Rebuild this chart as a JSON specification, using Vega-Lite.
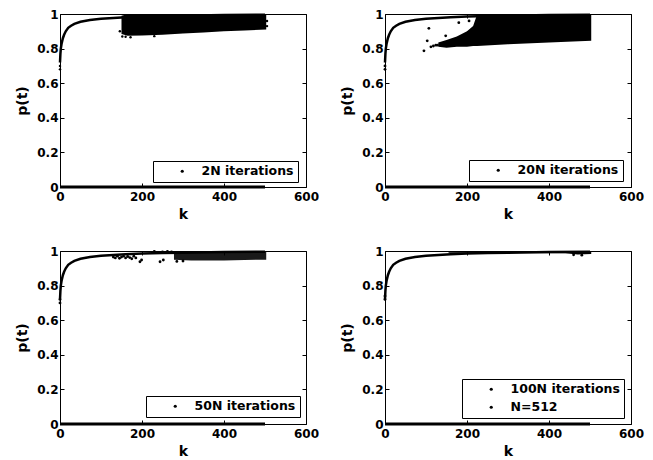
{
  "$schema": "https://vega.github.io/schema/vega-lite/v6.json",
  "padding": {"left": 15, "top": 7, "right": 5, "bottom": 3},
  "background": "white",
  "datasets": {
    "curve": [
      {"k": 0, "p": 0.72}, {"k": 1, "p": 0.77}, {"k": 2, "p": 0.8}, {"k": 4, "p": 0.83},
      {"k": 7, "p": 0.86}, {"k": 10, "p": 0.88}, {"k": 14, "p": 0.9}, {"k": 20, "p": 0.92},
      {"k": 27, "p": 0.932}, {"k": 35, "p": 0.943}, {"k": 50, "p": 0.955}, {"k": 73, "p": 0.965},
      {"k": 100, "p": 0.972}, {"k": 130, "p": 0.977}, {"k": 160, "p": 0.981}, {"k": 200, "p": 0.985},
      {"k": 250, "p": 0.988}, {"k": 300, "p": 0.99}, {"k": 400, "p": 0.994}, {"k": 500, "p": 0.996}
    ],
    "bottom": [{"k": 0, "p": 0}, {"k": 500, "p": 0}],
    "cloud1": [
      {"k": 150, "lo": 0.885, "hi": 0.99}, {"k": 165, "lo": 0.875, "hi": 1.0}, {"k": 200, "lo": 0.876, "hi": 1.0},
      {"k": 250, "lo": 0.88, "hi": 1.0}, {"k": 300, "lo": 0.887, "hi": 1.0}, {"k": 350, "lo": 0.893, "hi": 1.0},
      {"k": 400, "lo": 0.9, "hi": 1.0}, {"k": 450, "lo": 0.905, "hi": 1.0}, {"k": 503, "lo": 0.91, "hi": 1.0}
    ],
    "pts1": [
      {"k": 0, "p": 0.7}, {"k": 0, "p": 0.68}, {"k": 146, "p": 0.9}, {"k": 152, "p": 0.87},
      {"k": 160, "p": 0.868}, {"k": 172, "p": 0.866}, {"k": 230, "p": 0.872}, {"k": 505, "p": 0.93}, {"k": 505, "p": 0.96}
    ],
    "cloud2": [
      {"k": 130, "lo": 0.81, "hi": 0.835}, {"k": 150, "lo": 0.805, "hi": 0.85}, {"k": 175, "lo": 0.81, "hi": 0.87},
      {"k": 200, "lo": 0.81, "hi": 0.9}, {"k": 215, "lo": 0.815, "hi": 0.93}, {"k": 225, "lo": 0.815, "hi": 1.0},
      {"k": 300, "lo": 0.825, "hi": 1.0}, {"k": 400, "lo": 0.835, "hi": 1.0}, {"k": 503, "lo": 0.845, "hi": 1.0}
    ],
    "pts2": [
      {"k": 0, "p": 0.7}, {"k": 0, "p": 0.68}, {"k": 95, "p": 0.787}, {"k": 103, "p": 0.845}, {"k": 107, "p": 0.917},
      {"k": 112, "p": 0.81}, {"k": 118, "p": 0.815}, {"k": 124, "p": 0.82}, {"k": 128, "p": 0.82}, {"k": 148, "p": 0.874},
      {"k": 180, "p": 0.95}, {"k": 205, "p": 0.96}
    ],
    "cloud3": [
      {"k": 278, "lo": 0.95, "hi": 0.99}, {"k": 320, "lo": 0.945, "hi": 0.995}, {"k": 400, "lo": 0.945, "hi": 0.995},
      {"k": 450, "lo": 0.948, "hi": 0.995}, {"k": 503, "lo": 0.95, "hi": 0.995}
    ],
    "pts3": [
      {"k": 0, "p": 0.7}, {"k": 0, "p": 0.72},
      {"k": 130, "p": 0.965}, {"k": 135, "p": 0.96}, {"k": 140, "p": 0.97}, {"k": 145, "p": 0.958},
      {"k": 150, "p": 0.965}, {"k": 155, "p": 0.97}, {"k": 160, "p": 0.96}, {"k": 165, "p": 0.968},
      {"k": 170, "p": 0.962}, {"k": 175, "p": 0.955}, {"k": 180, "p": 0.97}, {"k": 185, "p": 0.96},
      {"k": 195, "p": 0.938}, {"k": 199, "p": 0.948}, {"k": 244, "p": 0.938}, {"k": 252, "p": 0.948},
      {"k": 250, "p": 0.995}, {"k": 262, "p": 0.997}, {"k": 272, "p": 0.994}, {"k": 230, "p": 0.998},
      {"k": 285, "p": 0.94}, {"k": 300, "p": 0.942}
    ],
    "cloud4": [
      {"k": 155, "lo": 0.99, "hi": 1.0}, {"k": 300, "lo": 0.988, "hi": 1.0}, {"k": 440, "lo": 0.987, "hi": 1.0},
      {"k": 470, "lo": 0.98, "hi": 1.0}, {"k": 503, "lo": 0.982, "hi": 1.0}
    ],
    "pts4": [
      {"k": 0, "p": 0.72}, {"k": 0, "p": 0.74}, {"k": 460, "p": 0.978}, {"k": 480, "p": 0.976}
    ]
  },
  "config": {
    "view": {"stroke": "black", "strokeWidth": 1},
    "axis": {
      "grid": false, "domain": false,
      "labelFont": "DejaVu Sans", "labelFontWeight": "bold", "labelFontSize": 12, "labelColor": "black",
      "titleFont": "DejaVu Sans", "titleFontWeight": "bold", "titleFontSize": 14, "titleColor": "black",
      "tickColor": "black", "tickSize": -4, "tickWidth": 1
    },
    "legend": {
      "labelFont": "DejaVu Sans", "labelFontWeight": "bold", "labelFontSize": 12.5, "labelColor": "black",
      "strokeColor": "black", "fillColor": "white", "padding": 4,
      "symbolType": "circle", "symbolSize": 10, "symbolFillColor": "black", "symbolStrokeColor": "black", "symbolStrokeWidth": 0,
      "symbolOffset": 19, "labelOffset": 13, "rowPadding": 5
    }
  },
  "resolve": {"scale": {"color": "independent"}, "legend": {"color": "independent"}},
  "spacing": 22,
  "vconcat": [
    {
      "resolve": {"scale": {"color": "independent"}, "legend": {"color": "independent"}},
      "spacing": 20,
      "hconcat": [
        {
          "width": 246, "height": 173,
          "resolve": {"axis": {"x": "independent", "y": "independent"}},
          "layer": [
            {"data": {"name": "bottom"}, "mark": {"type": "line", "color": "black", "strokeWidth": 3},
             "encoding": {
               "x": {"field": "k", "type": "quantitative", "scale": {"domain": [0, 600]}, "title": "k", "axis": {"orient": "bottom", "values": [0, 200, 400, 600], "labelPadding": 8, "titlePadding": 5, "labelFlush": false}},
               "y": {"field": "p", "type": "quantitative", "scale": {"domain": [0, 1]}, "title": "p(t)", "axis": {"orient": "left", "values": [0, 0.2, 0.4, 0.6, 0.8, 1], "format": "~g", "labelPadding": 6, "titlePadding": 7, "labelFlush": false}}
             }},
            {"data": {"name": "cloud1"}, "mark": {"type": "area", "color": "black"},
             "encoding": {"x": {"field": "k", "type": "quantitative", "axis": null}, "y": {"field": "lo", "type": "quantitative", "axis": null}, "y2": {"field": "hi"}}},
            {"data": {"name": "curve"}, "mark": {"type": "line", "color": "black", "strokeWidth": 2.5},
             "encoding": {
               "x": {"field": "k", "type": "quantitative", "axis": {"orient": "top", "values": [0, 200, 400, 600], "labels": false, "title": null}},
               "y": {"field": "p", "type": "quantitative", "axis": {"orient": "right", "values": [0, 0.2, 0.4, 0.6, 0.8, 1], "labels": false, "title": null}}
             }},
            {"data": {"name": "pts1"}, "mark": {"type": "point", "filled": true, "size": 6, "opacity": 1},
             "encoding": {
               "x": {"field": "k", "type": "quantitative", "axis": null},
               "y": {"field": "p", "type": "quantitative", "axis": null},
               "color": {"datum": "2N iterations", "type": "nominal", "scale": {"range": ["black"]}, "legend": {"title": null, "orient": "none", "legendX": 93, "legendY": 147}}
             }}
          ]
        },
        {
          "width": 246, "height": 173,
          "resolve": {"axis": {"x": "independent", "y": "independent"}},
          "layer": [
            {"data": {"name": "bottom"}, "mark": {"type": "line", "color": "black", "strokeWidth": 3},
             "encoding": {
               "x": {"field": "k", "type": "quantitative", "scale": {"domain": [0, 600]}, "title": "k", "axis": {"orient": "bottom", "values": [0, 200, 400, 600], "labelPadding": 8, "titlePadding": 5, "labelFlush": false}},
               "y": {"field": "p", "type": "quantitative", "scale": {"domain": [0, 1]}, "title": "p(t)", "axis": {"orient": "left", "values": [0, 0.2, 0.4, 0.6, 0.8, 1], "format": "~g", "labelPadding": 6, "titlePadding": 7, "labelFlush": false}}
             }},
            {"data": {"name": "cloud2"}, "mark": {"type": "area", "color": "black"},
             "encoding": {"x": {"field": "k", "type": "quantitative", "axis": null}, "y": {"field": "lo", "type": "quantitative", "axis": null}, "y2": {"field": "hi"}}},
            {"data": {"name": "curve"}, "mark": {"type": "line", "color": "black", "strokeWidth": 2.5},
             "encoding": {
               "x": {"field": "k", "type": "quantitative", "axis": {"orient": "top", "values": [0, 200, 400, 600], "labels": false, "title": null}},
               "y": {"field": "p", "type": "quantitative", "axis": {"orient": "right", "values": [0, 0.2, 0.4, 0.6, 0.8, 1], "labels": false, "title": null}}
             }},
            {"data": {"name": "pts2"}, "mark": {"type": "point", "filled": true, "size": 8, "opacity": 1},
             "encoding": {
               "x": {"field": "k", "type": "quantitative", "axis": null},
               "y": {"field": "p", "type": "quantitative", "axis": null},
               "color": {"datum": "20N iterations", "type": "nominal", "scale": {"range": ["black"]}, "legend": {"title": null, "orient": "none", "legendX": 84, "legendY": 146}}
             }}
          ]
        }
      ]
    },
    {
      "resolve": {"scale": {"color": "independent"}, "legend": {"color": "independent"}},
      "spacing": 20,
      "hconcat": [
        {
          "width": 246, "height": 173,
          "resolve": {"axis": {"x": "independent", "y": "independent"}},
          "layer": [
            {"data": {"name": "bottom"}, "mark": {"type": "line", "color": "black", "strokeWidth": 3},
             "encoding": {
               "x": {"field": "k", "type": "quantitative", "scale": {"domain": [0, 600]}, "title": "k", "axis": {"orient": "bottom", "values": [0, 200, 400, 600], "labelPadding": 8, "titlePadding": 5, "labelFlush": false}},
               "y": {"field": "p", "type": "quantitative", "scale": {"domain": [0, 1]}, "title": "p(t)", "axis": {"orient": "left", "values": [0, 0.2, 0.4, 0.6, 0.8, 1], "format": "~g", "labelPadding": 6, "titlePadding": 7, "labelFlush": false}}
             }},
            {"data": {"name": "cloud3"}, "mark": {"type": "area", "color": "black", "opacity": 0.9},
             "encoding": {"x": {"field": "k", "type": "quantitative", "axis": null}, "y": {"field": "lo", "type": "quantitative", "axis": null}, "y2": {"field": "hi"}}},
            {"data": {"name": "curve"}, "mark": {"type": "line", "color": "black", "strokeWidth": 2.5},
             "encoding": {
               "x": {"field": "k", "type": "quantitative", "axis": {"orient": "top", "values": [0, 200, 400, 600], "labels": false, "title": null}},
               "y": {"field": "p", "type": "quantitative", "axis": {"orient": "right", "values": [0, 0.2, 0.4, 0.6, 0.8, 1], "labels": false, "title": null}}
             }},
            {"data": {"name": "pts3"}, "mark": {"type": "point", "filled": true, "size": 8, "opacity": 1},
             "encoding": {
               "x": {"field": "k", "type": "quantitative", "axis": null},
               "y": {"field": "p", "type": "quantitative", "axis": null},
               "color": {"datum": "50N iterations", "type": "nominal", "scale": {"range": ["black"]}, "legend": {"title": null, "orient": "none", "legendX": 86, "legendY": 145}}
             }}
          ]
        },
        {
          "width": 246, "height": 173,
          "resolve": {"axis": {"x": "independent", "y": "independent"}},
          "layer": [
            {"data": {"name": "bottom"}, "mark": {"type": "line", "color": "black", "strokeWidth": 3},
             "encoding": {
               "x": {"field": "k", "type": "quantitative", "scale": {"domain": [0, 600]}, "title": "k", "axis": {"orient": "bottom", "values": [0, 200, 400, 600], "labelPadding": 8, "titlePadding": 5, "labelFlush": false}},
               "y": {"field": "p", "type": "quantitative", "scale": {"domain": [0, 1]}, "title": "p(t)", "axis": {"orient": "left", "values": [0, 0.2, 0.4, 0.6, 0.8, 1], "format": "~g", "labelPadding": 6, "titlePadding": 7, "labelFlush": false}}
             }},
            {"data": {"name": "cloud4"}, "mark": {"type": "area", "color": "black"},
             "encoding": {"x": {"field": "k", "type": "quantitative", "axis": null}, "y": {"field": "lo", "type": "quantitative", "axis": null}, "y2": {"field": "hi"}}},
            {"data": {"name": "curve"}, "mark": {"type": "line", "color": "black", "strokeWidth": 2.5},
             "encoding": {
               "x": {"field": "k", "type": "quantitative", "axis": {"orient": "top", "values": [0, 200, 400, 600], "labels": false, "title": null}},
               "y": {"field": "p", "type": "quantitative", "axis": {"orient": "right", "values": [0, 0.2, 0.4, 0.6, 0.8, 1], "labels": false, "title": null}}
             }},
            {"data": {"name": "pts4"}, "mark": {"type": "point", "filled": true, "size": 8, "opacity": 1},
             "encoding": {
               "x": {"field": "k", "type": "quantitative", "axis": null},
               "y": {"field": "p", "type": "quantitative", "axis": null},
               "color": {"datum": "100N iterations", "type": "nominal", "scale": {"domain": ["100N iterations", "N=512"], "range": ["black", "black"]}, "legend": {"title": null, "orient": "none", "legendX": 77, "legendY": 128}}
             }}
          ]
        }
      ]
    }
  ]
}
